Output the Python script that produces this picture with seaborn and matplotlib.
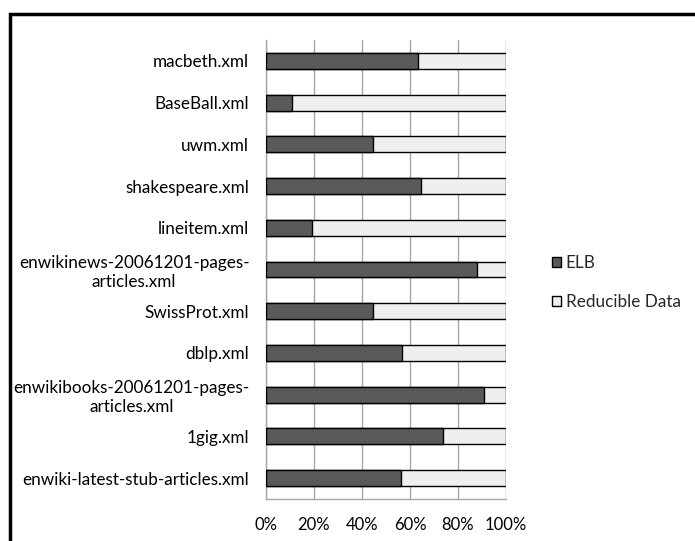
import matplotlib
matplotlib.use("Agg")
import matplotlib.pyplot as plt
from matplotlib.patches import Rectangle, Patch
from matplotlib.ticker import FixedLocator, PercentFormatter
import numpy as np
import pandas as pd
import seaborn as sns

# Share of each XML document: element/label blocks vs. reducible data (%)
files = [
    "macbeth.xml",
    "BaseBall.xml",
    "uwm.xml",
    "shakespeare.xml",
    "lineitem.xml",
    "enwikinews-20061201-pages-\narticles.xml",
    "SwissProt.xml",
    "dblp.xml",
    "enwikibooks-20061201-pages-\narticles.xml",
    "1gig.xml",
    "enwiki-latest-stub-articles.xml",
]
elb = [63.4, 10.7, 44.5, 64.7, 19.3, 87.9, 44.5, 56.5, 90.8, 73.9, 56.1]
reducible = [100 - v for v in elb]
x_ticks = [0, 20, 40, 60, 80, 100]

df = pd.DataFrame({"file": files, "ELB": elb, "Reducible Data": reducible})
df["total"] = df["ELB"] + df["Reducible Data"]

sns.set_style("white")
plt.rcParams["font.family"] = ["Lato", "DejaVu Sans"]

dark = "#595959"
light = "#efefef"
grid_c = "#a6a6a6"
fs = 12.3

fig = plt.figure(figsize=(6.95, 5.41), dpi=100)
ax = fig.add_axes([266 / 695, 1 - 499 / 541, 240 / 695, 459 / 541])

# Stacked bars: full-length reducible bar underneath, ELB share drawn over it
sns.barplot(data=df, y="file", x="total", orient="h", color=light,
            edgecolor="black", linewidth=1.0, width=0.38, saturation=1, ax=ax, zorder=3)
sns.barplot(data=df, y="file", x="ELB", orient="h", color=dark,
            edgecolor="black", linewidth=1.0, width=0.38, saturation=1, ax=ax, zorder=4)

ax.set_xlim(0, 100)
ax.set_ylim(len(files) - 0.5, -0.5)
ax.set_xticks(x_ticks)
ax.xaxis.set_major_formatter(PercentFormatter(decimals=0))
ax.set_xlabel("")
ax.set_ylabel("")

ax.xaxis.grid(True, color=grid_c, linewidth=1.0, zorder=0)
ax.set_axisbelow(True)

for side in ("top", "right"):
    ax.spines[side].set_visible(False)
for side in ("left", "bottom"):
    ax.spines[side].set_color(grid_c)
    ax.spines[side].set_linewidth(1.0)

ax.tick_params(axis="x", length=4, color=grid_c, labelsize=12, pad=9, labelcolor="black")
ax.tick_params(axis="y", which="major", length=0, labelsize=fs, pad=12, labelcolor="black")
ax.yaxis.set_minor_locator(FixedLocator(np.arange(-0.5, len(files), 1.0)))
ax.tick_params(axis="y", which="minor", length=4, color=grid_c)
for lbl in ax.get_yticklabels():
    lbl.set_multialignment("center")

handles = [Patch(facecolor=dark, edgecolor="black", linewidth=1.0, label="ELB"),
           Patch(facecolor=light, edgecolor="black", linewidth=1.0, label="Reducible Data")]
fig.legend(handles=handles, loc="upper left", bbox_to_anchor=(545 / 695, 1 - 248 / 541),
           frameon=False, fontsize=fs, handlelength=0.55, handleheight=0.55,
           handletextpad=0.25, labelspacing=1.35, borderaxespad=0)

# Frame around the figure (open on the right and bottom edges)
fig.patches.append(Rectangle((10 / 695, -0.05), 1.2, 1 - 14.5 / 541 + 0.05,
                             transform=fig.transFigure, fill=False,
                             edgecolor="black", linewidth=2.5, zorder=10))

fig.savefig("out.png", dpi=100)
